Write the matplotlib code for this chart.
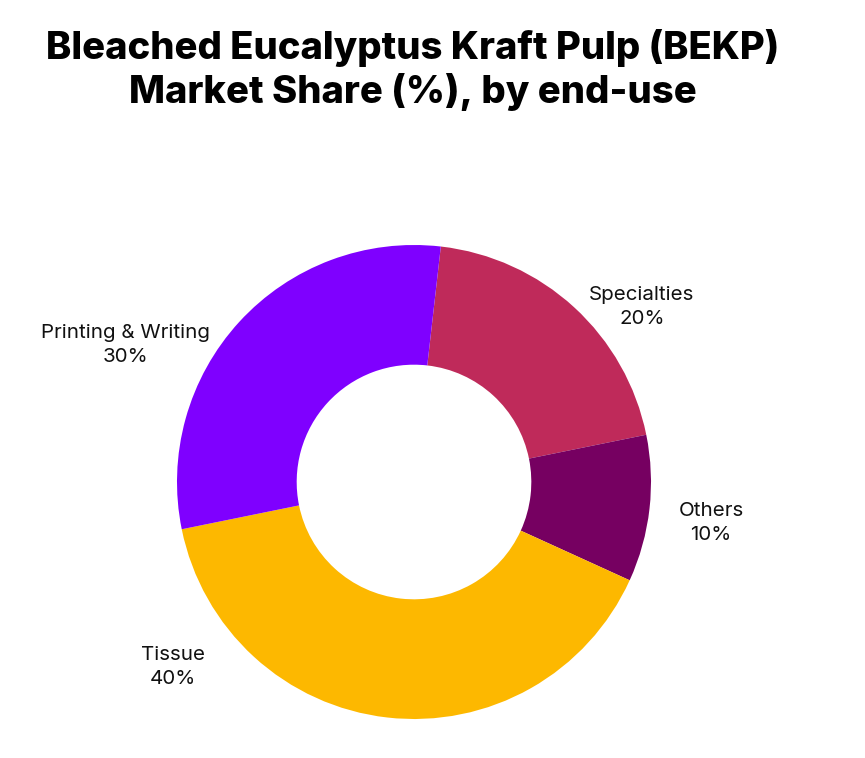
import matplotlib.pyplot as plt

categories = ["Specialties", "Others", "Tissue", "Printing & Writing"]
shares = [20, 10, 40, 30]
colors = ["#BF2A5A", "#760061", "#FDB800", "#7F00FF"]

# label anchor points in data units (radius 1 = outer edge)
label_pos = [(0.962, 0.738), (1.253, -0.173), (-1.017, -0.781), (-1.219, 0.578)]

W, H = 865, 758
fig = plt.figure(figsize=(W / 100, H / 100), dpi=100)

R = 237.0
cx, cy = 414.0, H - 482.0
xlim = (-1.6, 1.6)
ylim = (-1.05, 1.2)
left = cx + xlim[0] * R
bottom = cy + ylim[0] * R
ax = fig.add_axes([left / W, bottom / H,
                   (xlim[1] - xlim[0]) * R / W, (ylim[1] - ylim[0]) * R / H])

ax.pie(shares, colors=colors, startangle=83.5, counterclock=False,
       radius=1.0, wedgeprops=dict(width=0.505, edgecolor="none"))
ax.set_xlim(*xlim)
ax.set_ylim(*ylim)
ax.set_aspect("auto")
ax.axis("off")

for name, val, (x, y) in zip(categories, shares, label_pos):
    ax.text(x, y, f"{name}\n{val}%", ha="center", va="center",
            fontsize=14.8, family="Inter", color="#111111", linespacing=1.42)

fig.text(0.477, 1 - 70 / H, "Bleached Eucalyptus Kraft Pulp (BEKP)\nMarket Share (%), by end-use",
         ha="center", va="center", fontsize=27.5, fontweight="heavy",
         family="Inter", color="black", linespacing=1.22)

fig.savefig("out.png", dpi=100, facecolor="white")
